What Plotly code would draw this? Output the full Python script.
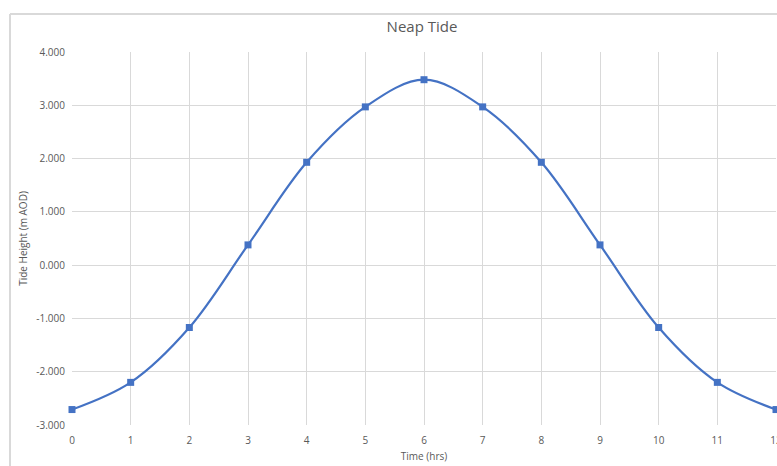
import plotly.graph_objects as go

time_hrs = [0, 1, 2, 3, 4, 5, 6, 7, 8, 9, 10, 11, 12]
tide_height = [-2.71, -2.20, -1.17, 0.38, 1.93, 2.97, 3.48, 2.97, 1.93, 0.38, -1.17, -2.20, -2.71]
y_tick_vals = [4, 3, 2, 1, 0, -1, -2, -3]
y_tick_text = ["4.000", "3.000", "2.000", "1.000", "0.000", "-1.000", "-2.000", "-3.000"]
x_tick_vals = time_hrs
x_tick_text = [str(v) for v in time_hrs]

W, H = 777, 466
L, R, T, B = 72, 1, 52, 41
pw, ph = W - L - R, H - T - B

def px_to_paper_x(px):
    return (px - L) / pw

def px_to_paper_y(py):
    return (H - B - py) / ph

fig = go.Figure()
fig.add_trace(go.Scatter(
    x=time_hrs, y=tide_height, mode="lines+markers",
    line=dict(color="#4472C4", width=2.2, shape="spline", smoothing=1.0),
    marker=dict(symbol="square", size=7, color="#4472C4"),
    showlegend=False, cliponaxis=False,
))

grid = "#D9D9D9"
font_col = "#595959"
fig.update_layout(
    width=W, height=H,
    margin=dict(l=L, r=R, t=T, b=B, autoexpand=False),
    paper_bgcolor="white", plot_bgcolor="white",
    font=dict(family="Open Sans", color=font_col, size=10),
    title=dict(text="Neap Tide", x=px_to_paper_x(422), xref="paper", xanchor="center",
               y=1 - 27 / H, yanchor="middle", font=dict(size=15, color=font_col)),
    xaxis=dict(range=[0, 12], tickmode="array", tickvals=x_tick_vals, ticktext=x_tick_text,
               showgrid=True, gridcolor=grid, gridwidth=1, zeroline=False,
               showline=False, ticks="", tickfont=dict(size=10, color=font_col),
               ticklabelstandoff=8, ticklabeloverflow="allow", automargin=False,
               title=dict(text="Time (hrs)", font=dict(size=10, color=font_col), standoff=6)),
    yaxis=dict(range=[-3, 4], tickmode="array", tickvals=y_tick_vals, ticktext=y_tick_text,
               showgrid=True, gridcolor=grid, gridwidth=1, zeroline=False,
               showline=False, ticks="", tickfont=dict(size=10, color=font_col),
               ticklabelstandoff=6, automargin=False,
               title=dict(text="Tide Height (m AOD)", font=dict(size=10, color=font_col), standoff=6)),
    shapes=[
        dict(type="line", xref="paper", yref="paper",
             x0=px_to_paper_x(10), x1=px_to_paper_x(10), y0=px_to_paper_y(14), y1=px_to_paper_y(470),
             line=dict(color="#D9D9D9", width=2), layer="below"),
        dict(type="line", xref="paper", yref="paper",
             x0=px_to_paper_x(10), x1=px_to_paper_x(780), y0=px_to_paper_y(14), y1=px_to_paper_y(14),
             line=dict(color="#D9D9D9", width=2), layer="below"),
    ],
)

fig.write_html("out.html")
